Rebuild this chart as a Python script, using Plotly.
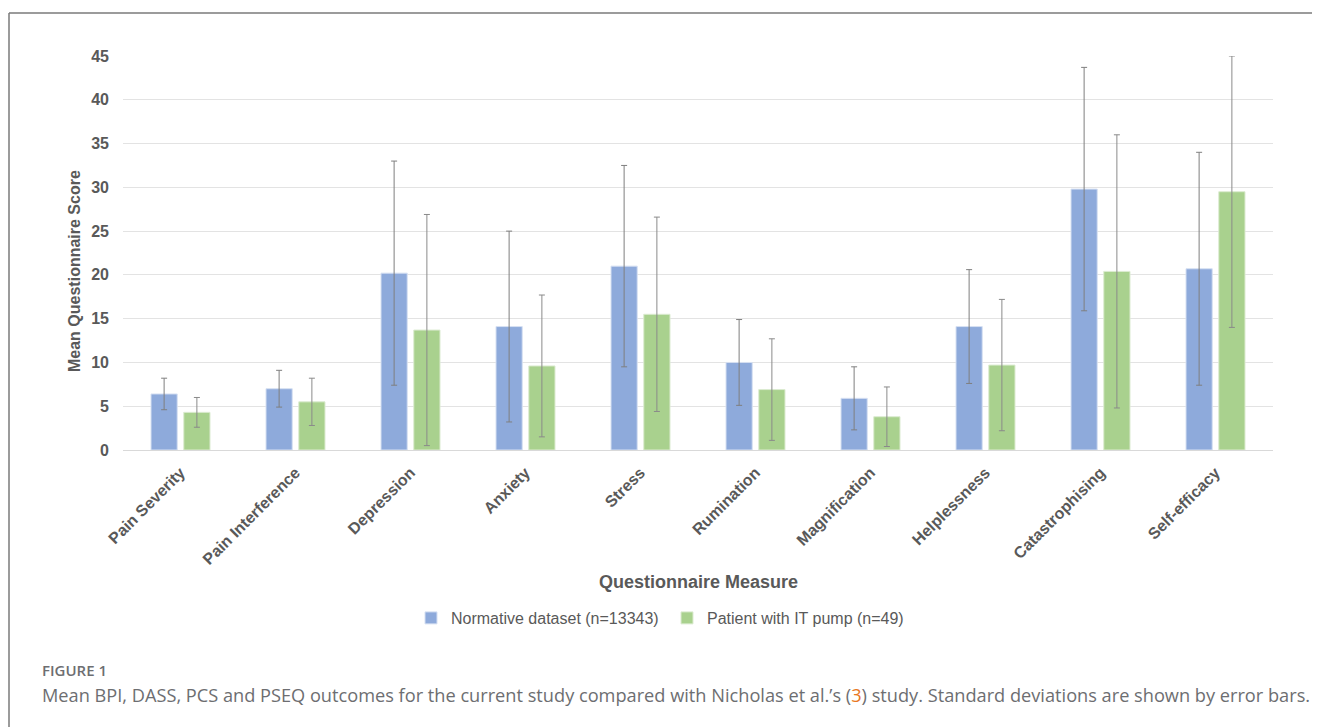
import plotly.graph_objects as go

categories = ["Pain Severity", "Pain Interference", "Depression", "Anxiety", "Stress",
              "Rumination", "Magnification", "Helplessness", "Catastrophising", "Self-efficacy"]
normative_mean = [6.4, 7.0, 20.2, 14.1, 21.0, 10.0, 5.9, 14.1, 29.8, 20.7]
normative_sd = [1.8, 2.1, 12.8, 10.9, 11.5, 4.9, 3.6, 6.5, 13.9, 13.3]
pump_mean = [4.3, 5.5, 13.7, 9.6, 15.5, 6.9, 3.8, 9.7, 20.4, 29.5]
pump_sd = [1.7, 2.7, 13.2, 8.1, 11.1, 5.8, 3.4, 7.5, 15.6, 15.5]
y_ticks = [0, 5, 10, 15, 20, 25, 30, 35, 40, 45]

OFF = 8  # default page body margin
W, H = 1320 - OFF, 727 - OFF
ML, MT = 123 - OFF, 56 - OFF
PLOT_R, PLOT_B = 1273 - OFF, 450 - OFF
MR, MB = W - PLOT_R, H - PLOT_B
PW, PH = PLOT_R - ML, PLOT_B - MT

def px(x):
    return (x - OFF - ML) / PW

def py(y):
    return (PLOT_B - (y - OFF)) / PH

TXT = "#595959"
AX_FONT = "Liberation Sans, Arial, sans-serif"

fig = go.Figure()
fig.add_trace(go.Bar(
    x=categories, y=normative_mean, name="Normative dataset (n=13343)",
    marker=dict(color="#8eaadb", line=dict(color="#d6e0f2", width=1)),
    error_y=dict(type="data", array=normative_sd, color="#7f7f7f", thickness=1, width=3),
))
fig.add_trace(go.Bar(
    x=categories, y=pump_mean, name="Patient with IT pump (n=49)",
    marker=dict(color="#a9d18e", line=dict(color="#dcebd1", width=1)),
    error_y=dict(type="data", array=pump_sd, color="#8a8a8a", thickness=1, width=3),
))

fig.update_layout(
    width=W, height=H, autosize=False,
    margin=dict(l=ML, r=MR, t=MT, b=MB, pad=0),
    paper_bgcolor="white", plot_bgcolor="white",
    barmode="group", bargap=0.43, bargroupgap=0.2,
    font=dict(family=AX_FONT, color=TXT),
    showlegend=True,
    legend=dict(orientation="h", x=px(411), xanchor="left", y=py(618), yanchor="middle",
                font=dict(size=16, color=TXT, family=AX_FONT), itemwidth=30,
                entrywidth=211, entrywidthmode="pixels",
                traceorder="normal", bgcolor="rgba(0,0,0,0)"),
)
fig.update_xaxes(
    tickangle=-45, tickfont=dict(size=16, color=TXT, family=AX_FONT, weight="bold"),
    showgrid=False, showline=True, linecolor="#d9d9d9", linewidth=1, ticks="",
    ticklabelstandoff=6, zeroline=False,
)
fig.update_yaxes(
    range=[0, 45], tickvals=y_ticks, ticktext=[str(v) for v in y_ticks],
    tickfont=dict(size=16, color=TXT, family=AX_FONT, weight="bold"),
    showgrid=True, gridcolor="#e3e3e3", gridwidth=1, zeroline=True, zerolinecolor="#d9d9d9",
    zerolinewidth=1, showline=False, ticks="", ticklabelstandoff=13,
)

anns = [
    dict(text="<b>Questionnaire Measure</b>", x=px(698), y=py(582), xref="paper", yref="paper",
         showarrow=False, xanchor="center", yanchor="middle",
         font=dict(size=18, color=TXT, family=AX_FONT)),
    dict(text="<b>Mean Questionnaire Score</b>", x=px(74), y=py(271), xref="paper", yref="paper",
         showarrow=False, xanchor="center", yanchor="middle", textangle=-90,
         font=dict(size=16, color=TXT, family=AX_FONT)),
    dict(text="FIGURE 1", x=px(40), y=py(670), xref="paper", yref="paper",
         showarrow=False, xanchor="left", yanchor="middle",
         font=dict(size=15, color="#6d6e71", family="Open Sans, sans-serif", weight=600)),
    dict(text="Mean BPI, DASS, PCS and PSEQ outcomes for the current study compared with Nicholas et al.\u2019s "
              "(<span style='color:#e87722'>3</span>) study. Standard deviations are shown by error bars.",
         x=px(40), y=py(695), xref="paper", yref="paper",
         showarrow=False, xanchor="left", yanchor="middle",
         font=dict(size=18.2, color="#6d6e71", family="Open Sans, sans-serif")),
]
fig.update_layout(annotations=anns)

fig.update_layout(shapes=[
    dict(type="line", xref="paper", yref="paper", x0=px(9), x1=px(1330), y0=py(13), y1=py(13),
         line=dict(color="#7a7a7a", width=1.5)),
    dict(type="line", xref="paper", yref="paper", x0=px(9), x1=px(9), y0=py(13), y1=py(740),
         line=dict(color="#7a7a7a", width=1.5)),
])

fig.write_html("out.html")
